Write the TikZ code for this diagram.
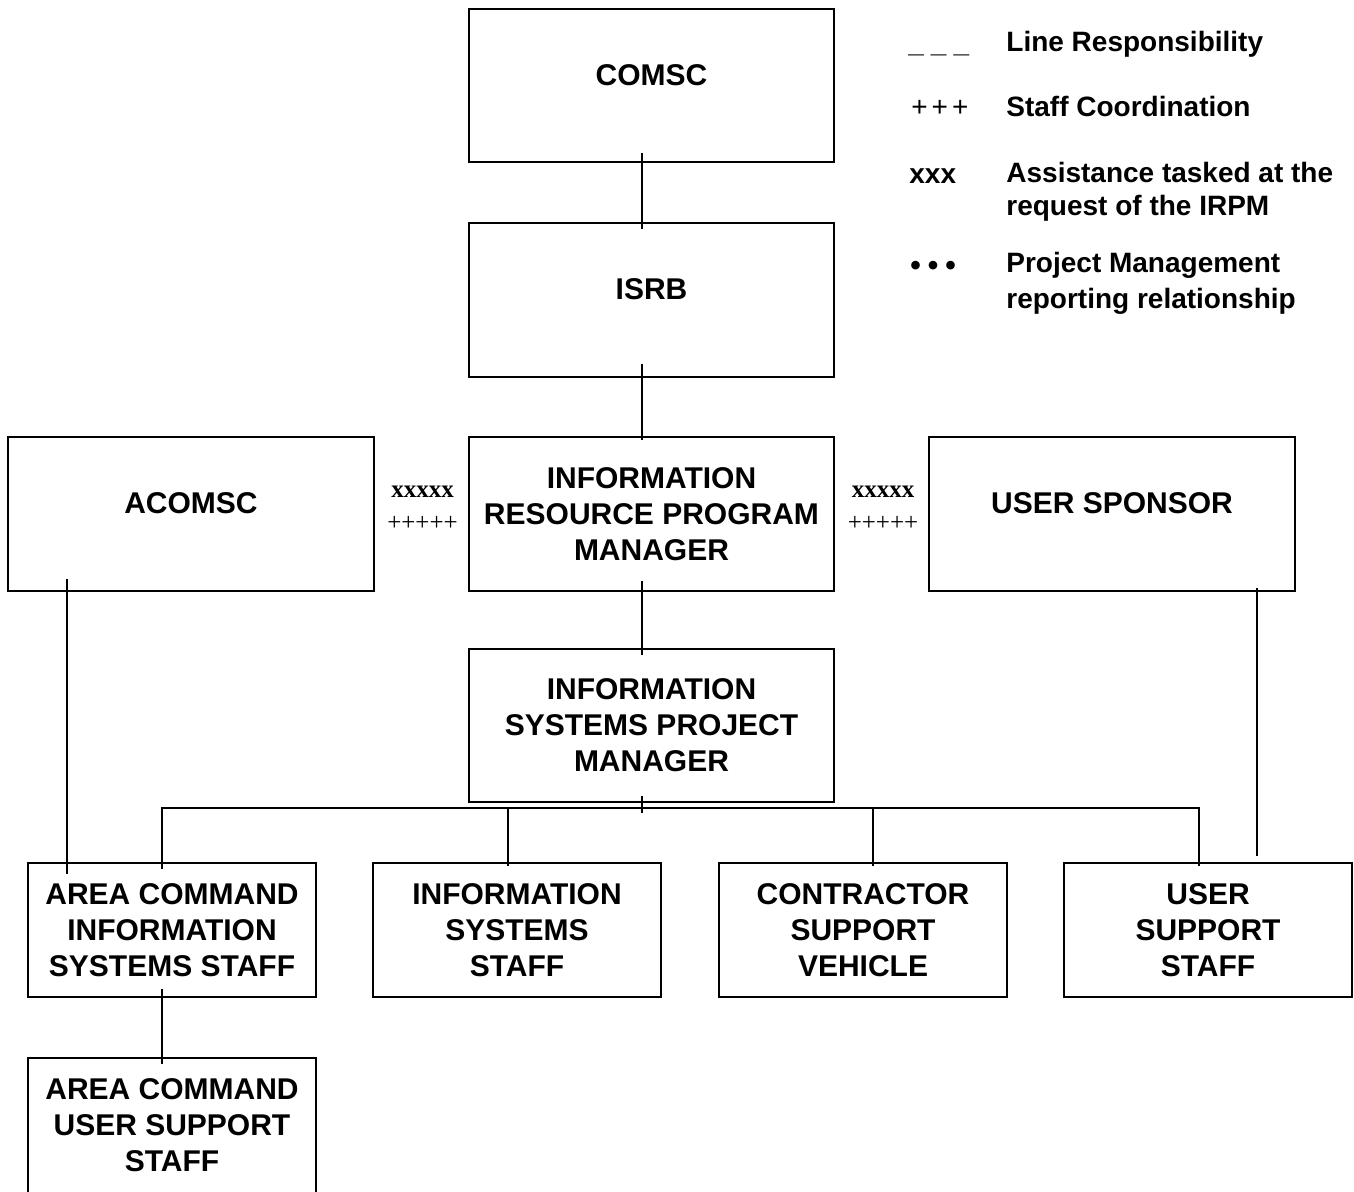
\documentclass[tikz,border=0pt]{standalone}
\usepackage{fontspec}
\setmainfont{Liberation Sans}
\newfontfamily\timesfont{Liberation Serif}
\usetikzlibrary{calc}

\tikzset{
  unit/.style={x=0.5pt,y=-0.5pt},
  orgbox/.style={draw, line width=1pt, inner sep=0pt, align=center,
    font=\fontsize{15}{18}\selectfont\bfseries},
  single/.style={text depth=10.5pt},
  link/.style={line width=1pt},
  legendsym/.style={anchor=base west, inner sep=0pt, font=\fontsize{14}{17}\selectfont\bfseries},
  legendtxt/.style={anchor=base west, inner sep=0pt, align=left,
    font=\fontsize{14}{17}\selectfont\bfseries},
  xmark/.style={inner sep=0pt, font=\fontsize{12.5}{14}\timesfont\bfseries},
  pmark/.style={inner sep=0pt, font=\fontsize{12.5}{14}\timesfont},
}

\begin{document}
\begin{tikzpicture}[unit]
\useasboundingbox (0,0) rectangle (1354,1192);
\begin{scope}
\clip (0,0) rectangle (1354,1192);

% chain of command down the centre
\node[orgbox, single, minimum width=182.5pt, minimum height=76.5pt] (comsc) at (651.5,85.5) {COMSC};
\node[orgbox, single, minimum width=182.5pt, minimum height=77pt] (isrb) at (651.5,300) {ISRB};
\node[orgbox, minimum width=182.5pt, minimum height=77pt] (irpm) at (651.5,514) {INFORMATION\\RESOURCE PROGRAM\\MANAGER};
\node[orgbox, single, minimum width=183pt, minimum height=77pt] (acomsc) at (191,514) {ACOMSC};
\node[orgbox, single, minimum width=183pt, minimum height=77pt] (usp) at (1112,514) {USER SPONSOR};
\node[orgbox, minimum width=182.5pt, minimum height=76.5pt] (ispm) at (651.5,725.5) {INFORMATION\\SYSTEMS PROJECT\\MANAGER};

% staff row
\node[orgbox, minimum width=144pt, minimum height=67pt] (b1) at (172,930) {AREA COMMAND\\INFORMATION\\SYSTEMS STAFF};
\node[orgbox, minimum width=144pt, minimum height=67pt] (b2) at (517,930) {INFORMATION\\SYSTEMS\\STAFF};
\node[orgbox, minimum width=144pt, minimum height=67pt] (b3) at (863,930) {CONTRACTOR\\SUPPORT\\VEHICLE};
\node[orgbox, minimum width=144pt, minimum height=67pt] (b4) at (1208,930) {USER\\SUPPORT\\STAFF};
% runs past the lower edge of the page
\node[orgbox, minimum width=144pt, minimum height=80pt, text depth=13pt] (b5) at (172,1138) {AREA COMMAND\\USER SUPPORT\\STAFF};

% coordination marks
\node[xmark] (xl) at (422.5,492) {xxxxx};
\node[pmark] (pl) at (422.5,523) {+++++};
\node[xmark] (xr) at (883,492) {xxxxx};
\node[pmark] (pr) at (883,523) {+++++};

% connectors
\draw[link] ($(comsc.south)+(-9.5,-10)$) -- ($(isrb.north)+(-9.5,7)$);
\draw[link] ($(isrb.south)+(-9.5,-14)$) -- ($(irpm.north)+(-9.5,4)$);
\draw[link] ($(irpm.south)+(-9.5,-11)$) -- ($(ispm.north)+(-9.5,7)$);
\draw[link] ($(ispm.south)+(-9.5,-7)$) -- ($(ispm.south)+(-9.5,10)$);
\draw[link] ($(b1.north)+(-10,7)$) |- ($(b4.north)+(-9,-54)$) -- ($(b4.north)+(-9,4)$);
\draw[link] ($(b2.north)+(-9,-54)$) -- ($(b2.north)+(-9,4)$);
\draw[link] ($(b3.north)+(10,-54)$) -- ($(b3.north)+(10,4)$);
\draw[link] ($(acomsc.south)+(-124.5,-13)$) -- ($(b1.north)+(-105.5,12)$);
\draw[link] ($(usp.south)+(144.5,-4)$) -- ($(b4.north)+(48.5,-6)$);
\draw[link] ($(b1.south)+(-10,-9)$) -- ($(b5.north)+(-10,7)$);
\end{scope}

% legend
\node[legendsym] (k1) at (908,53) {\_\kern3.5pt\_\kern3.5pt\_};
\node[legendtxt] (t1) at (1006,52) {Line Responsibility};
\node[legendsym, font=\fontsize{14}{17}\selectfont] (k2) at (911,117) {+\kern2pt+\kern2pt+};
\node[legendtxt] (t2) at (1006,117) {Staff Coordination};
\node[legendsym] (k3) at (909,184) {xxx};
\node[legendtxt, font=\fontsize{14}{16.5}\selectfont\bfseries] (t3) at (1006,216) {Assistance tasked at the\\request of the IRPM};
\node[legendsym, font=\fontsize{15}{17}\selectfont\bfseries] (k4) at (910,276) {•\kern3.5pt•\kern3.5pt•};
\node[legendtxt, font=\fontsize{14}{18}\selectfont\bfseries] (t4) at (1006,309) {Project Management\\reporting relationship};
\end{tikzpicture}
\end{document}
